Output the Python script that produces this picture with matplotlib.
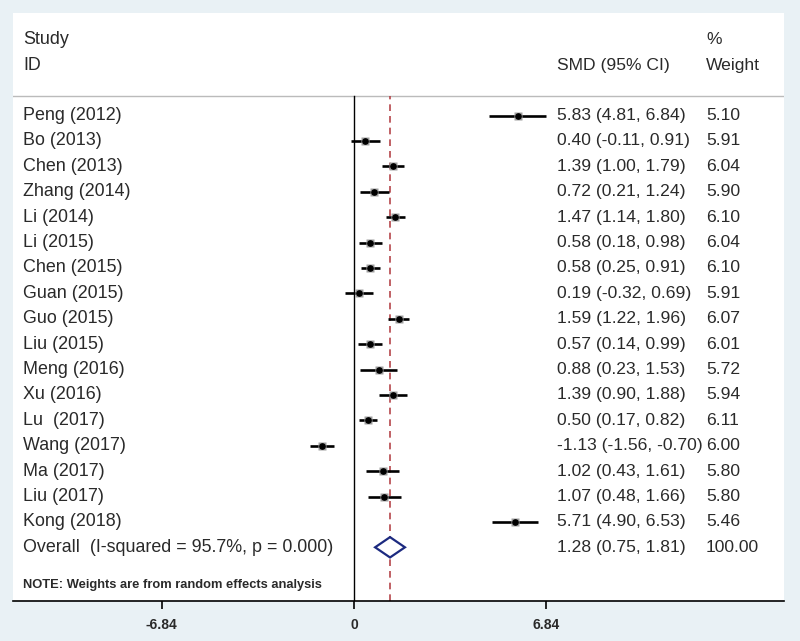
import matplotlib.pyplot as plt
import matplotlib.transforms as mtransforms

studies = ["Peng (2012)", "Bo (2013)", "Chen (2013)", "Zhang (2014)", "Li (2014)",
           "Li (2015)", "Chen (2015)", "Guan (2015)", "Guo (2015)", "Liu (2015)",
           "Meng (2016)", "Xu (2016)", "Lu  (2017)", "Wang (2017)", "Ma (2017)",
           "Liu (2017)", "Kong (2018)"]
smd = [5.83, 0.40, 1.39, 0.72, 1.47, 0.58, 0.58, 0.19, 1.59, 0.57,
       0.88, 1.39, 0.50, -1.13, 1.02, 1.07, 5.71]
lo = [4.81, -0.11, 1.00, 0.21, 1.14, 0.18, 0.25, -0.32, 1.22, 0.14,
      0.23, 0.90, 0.17, -1.56, 0.43, 0.48, 4.90]
hi = [6.84, 0.91, 1.79, 1.24, 1.80, 0.98, 0.91, 0.69, 1.96, 0.99,
      1.53, 1.88, 0.82, -0.70, 1.61, 1.66, 6.53]
weights = [5.10, 5.91, 6.04, 5.90, 6.10, 6.04, 6.10, 5.91, 6.07, 6.01,
           5.72, 5.94, 6.11, 6.00, 5.80, 5.80, 5.46]

overall_label = "Overall  (I-squared = 95.7%, p = 0.000)"
overall = 1.28
overall_lo = 0.75
overall_hi = 1.81
overall_wt = "100.00"
note = "NOTE: Weights are from random effects analysis"
xticks = [-6.84, 0, 6.84]

W, H = 800, 641
bg = "#e9f1f5"
txt_col = "#2a2a2a"
font = "Liberation Sans"

fig = plt.figure(figsize=(W / 100, H / 100), dpi=100, facecolor=bg)
# white plot panel in pixel terms
left, right, top, bottom = 13, 784, 13, 601
ax = fig.add_axes([left / W, (H - bottom) / H, (right - left) / W, (bottom - top) / H])
ax.set_facecolor("white")

px_per_unit = 28.14
x0_px = 354
ax.set_xlim((left - x0_px) / px_per_unit, (right - x0_px) / px_per_unit)

row_px = 25.4
first_px = 115.5
ax.set_ylim((bottom - first_px) / row_px, (top - first_px) / row_px)

for s in ["top", "left", "right"]:
    ax.spines[s].set_visible(False)
ax.spines["bottom"].set_linewidth(1.2)
ax.set_yticks([])
ax.set_xticks(xticks)
ax.set_xticklabels(["-6.84", "0", "6.84"], fontsize=10, fontweight="bold",
                   color=txt_col, family=font)
ax.tick_params(axis="x", length=6, width=1.2, pad=6)

n = len(studies)
rows = list(range(n))
ymin = ax.get_ylim()[0]
hdr_line = (96 - first_px) / row_px

# header separator
ax.axhline(hdr_line, color="#bbbbbb", lw=1)
# null line and overall line
ax.plot([0, 0], [ymin, hdr_line], color="black", lw=1)
ax.plot([overall, overall], [ymin, hdr_line], color="#b5454a", lw=1.2, ls=(0, (4, 3)))

# study CIs and estimates
for i in rows:
    ax.plot([lo[i], hi[i]], [i, i], color="black", lw=1.9, solid_capstyle="butt")
    ax.plot(smd[i], i, marker="s", ms=5.5, color="#a0a0a0", mec="none")
    ax.plot(smd[i], i, marker="o", ms=3.8, color="black")

# overall diamond
oy = n
ax.fill([overall_lo, overall, overall_hi, overall, overall_lo],
        [oy, oy - 0.4, oy, oy + 0.4, oy], facecolor="white",
        edgecolor="#1c2a80", lw=1.6, zorder=3)

trans = mtransforms.blended_transform_factory(ax.transAxes, ax.transData)
lab_x = (23 - left) / (right - left)
smd_x = (557 - left) / (right - left)
wt_x = (706 - left) / (right - left)
fs = 12.9
fs_num = 12.6

ax.text(lab_x, -2.98, "Study", transform=trans, fontsize=fs, va="center", color=txt_col, family=font)
ax.text(lab_x, -1.98, "ID", transform=trans, fontsize=fs, va="center", color=txt_col, family=font)
ax.text(smd_x, -1.98, "SMD (95% CI)", transform=trans, fontsize=fs_num, va="center", color=txt_col, family=font)
ax.text(wt_x, -2.98, "%", transform=trans, fontsize=fs_num, va="center", color=txt_col, family=font)
ax.text(wt_x, -1.98, "Weight", transform=trans, fontsize=fs_num, va="center", color=txt_col, family=font)

for i in rows:
    ax.text(lab_x, i, studies[i], transform=trans, fontsize=fs, va="center", color=txt_col, family=font)
    ax.text(smd_x, i, f"{smd[i]:.2f} ({lo[i]:.2f}, {hi[i]:.2f})", transform=trans,
            fontsize=fs_num, va="center", color=txt_col, family=font)
    ax.text(wt_x, i, f"{weights[i]:.2f}", transform=trans, fontsize=fs_num, va="center",
            color=txt_col, family=font)

ax.text(lab_x, oy, overall_label, transform=trans, fontsize=fs, va="center", color=txt_col, family=font)
ax.text(smd_x, oy, f"{overall:.2f} ({overall_lo:.2f}, {overall_hi:.2f})", transform=trans,
        fontsize=fs_num, va="center", color=txt_col, family=font)
ax.text(wt_x, oy, overall_wt, transform=trans, fontsize=fs_num, va="center", color=txt_col, family=font)

ax.text(lab_x, (585 - first_px) / row_px, note, transform=trans, fontsize=9.3,
        fontweight="bold", va="center", color=txt_col, family=font)

fig.savefig("out.png", dpi=100, facecolor=bg)
